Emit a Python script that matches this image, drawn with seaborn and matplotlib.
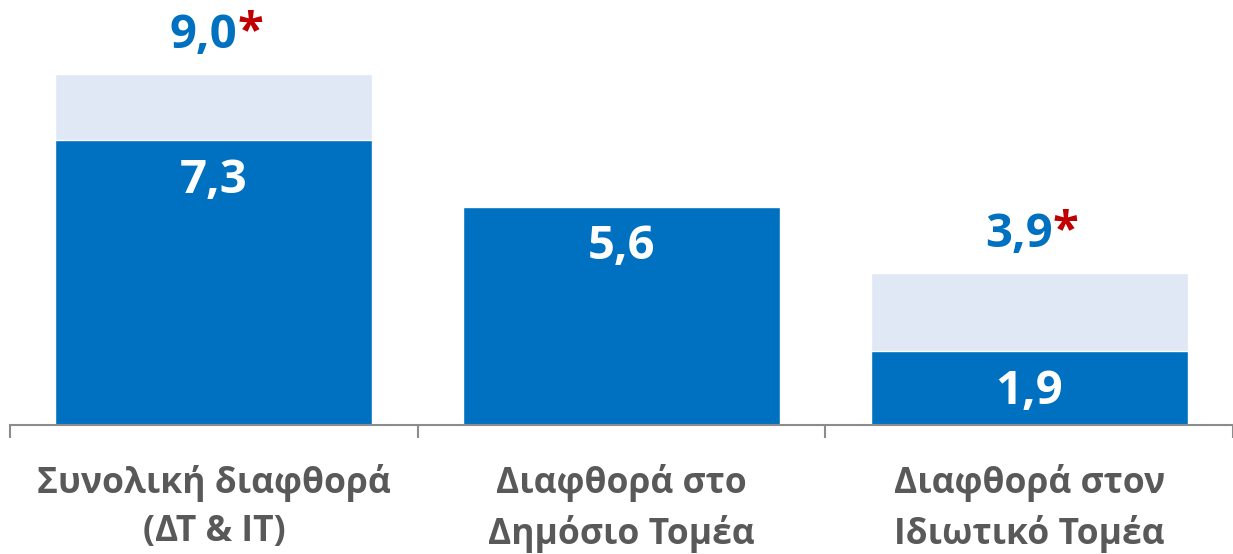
import matplotlib
matplotlib.use("Agg")
import matplotlib.pyplot as plt
import pandas as pd
import seaborn as sns

# Data
categories = ["Συνολική διαφθορά\n(ΔΤ & ΙΤ)", "Διαφθορά στο\nΔημόσιο Τομέα", "Διαφθορά στον\nΙδιωτικό Τομέα"]
direct_values = [7.3, 5.6, 1.9]
total_values = [9.0, None, 3.9]

DARK = "#0070C0"
LIGHT = "#E1E8F5"
RED = "#C00000"
GRAY = "#595959"
AXIS = "#8C8C8C"

sns.set_theme(style="white")
plt.rcParams["font.family"] = ["Open Sans", "DejaVu Sans"]

df = pd.DataFrame({"cat": categories, "direct": direct_values, "total": total_values})
df_tot = df.dropna(subset=["total"])

fig = plt.figure(figsize=(12.33, 5.54), dpi=100)
ax = fig.add_axes([0.0081, 0.2329, 0.9919, 0.7671])

sns.barplot(data=df_tot, x="cat", y="total", order=categories, color=LIGHT,
            saturation=1, width=0.777, ax=ax)
sns.barplot(data=df, x="cat", y="direct", order=categories, color=DARK,
            saturation=1, width=0.777, ax=ax)

ax.set_xlim(-0.5, 2.5)
ax.set_ylim(0, 10.9)
ax.set_xlabel("")
ax.set_ylabel("")
ax.set_yticks([])

for s in ["top", "right", "left"]:
    ax.spines[s].set_visible(False)
ax.spines["bottom"].set_color(AXIS)
ax.spines["bottom"].set_linewidth(1.5)

ax.set_xticks([0, 1, 2])
ax.set_xticklabels(categories, fontsize=25.5, fontweight="bold", color=GRAY, linespacing=1.45)
ax.tick_params(axis="x", which="major", length=0, pad=28)
ax.set_xticks([-0.5, 0.5, 1.5, 2.5], minor=True)
ax.tick_params(axis="x", which="minor", bottom=True, length=9, width=1.5, color=AXIS)

def fmt(v):
    return f"{v:.1f}".replace(".", ",")

for i, v in enumerate(direct_values):
    ax.annotate(fmt(v), (i, v), xytext=(0, -29), textcoords="offset points",
                ha="center", va="center", fontsize=34, fontweight="bold", color="white")

for i, v in enumerate(total_values):
    if v is None:
        continue
    ax.annotate(fmt(v), (i, v), xytext=(17, 28), textcoords="offset points",
                ha="right", va="center", fontsize=34, fontweight="bold", color=DARK)
    ax.annotate("*", (i, v), xytext=(17, 30), textcoords="offset points",
                ha="left", va="center", fontsize=34, fontweight="bold", color=RED)

fig.savefig("out.png", dpi=100)
